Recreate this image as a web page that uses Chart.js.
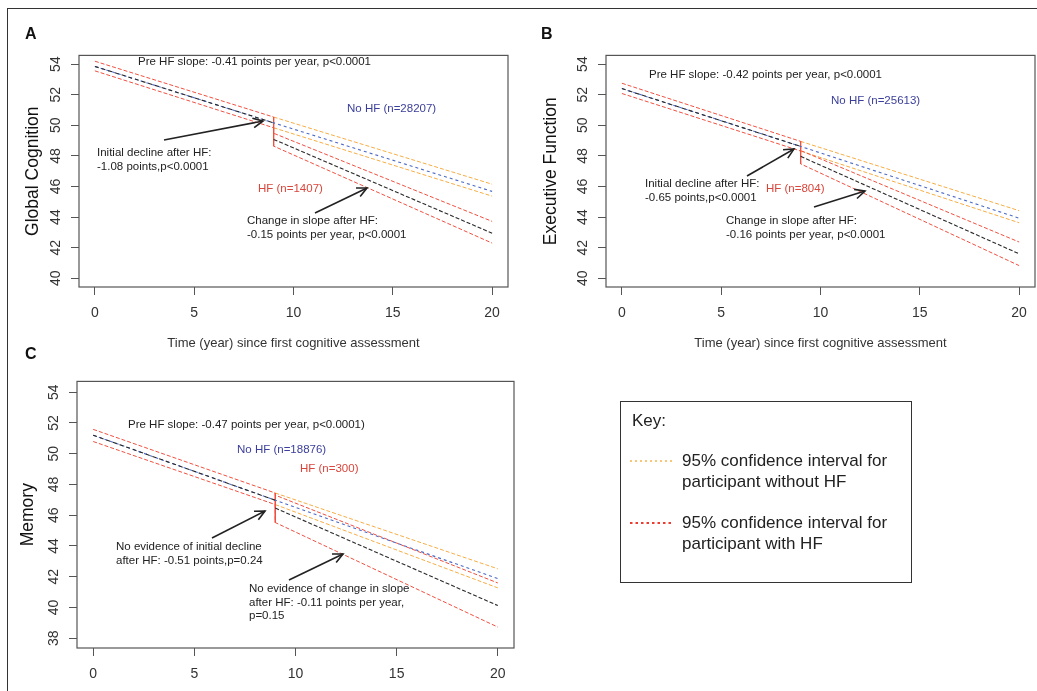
<!DOCTYPE html>
<html>
<head>
<meta charset="utf-8">
<script src="https://cdn.jsdelivr.net/npm/chart.js@4/dist/chart.umd.min.js"></script>
<style>
  body { margin: 0; background: #fff; font-family: "Liberation Sans", Arial, sans-serif; }
  #page { position: relative; width: 1037px; height: 691px; overflow: hidden; }
  #frame { position: absolute; left: 7px; top: 8px; width: 1060px; height: 720px; border: 1.5px solid #333; box-sizing: border-box; }
  canvas { position: absolute; }
  .note { position: absolute; font-size: 11.5px; line-height: 13.5px; color: #222; white-space: pre; }
  .letter { position: absolute; font-size: 16px; font-weight: bold; color: #111; line-height: 18px; }
  #key { position: absolute; left: 620px; top: 401px; width: 292px; height: 182px; border: 1.5px solid #333; box-sizing: border-box; }
  #key .txt { position: absolute; font-size: 17px; line-height: 21px; color: #222; white-space: pre; }
  #key svg { position: absolute; }
</style>
</head>
<body>
<div id="page">
  <div id="frame"></div>
  <canvas id="chartA" width="520" height="315" style="left:0;top:40px"></canvas>
  <canvas id="chartB" width="517" height="315" style="left:520px;top:40px"></canvas>
  <canvas id="chartC" width="520" height="325" style="left:0;top:366px"></canvas>
  <svg id="arrows" width="1037" height="691" style="position:absolute;left:0;top:0"></svg>
  <div class="letter" style="left:25px;top:25px">A</div>
  <div class="letter" style="left:541px;top:25px">B</div>
  <div class="letter" style="left:25px;top:345px">C</div>
  <div id="key">
    <div class="txt" style="left:11px;top:8px">Key:</div>
    <svg width="45" height="6" style="left:8px;top:56px"><line x1="1" y1="3" x2="44" y2="3" stroke="#f7b24a" stroke-width="1.6" stroke-dasharray="2,3"/></svg>
    <div class="txt" style="left:61px;top:48px">95% confidence interval for
participant without HF</div>
    <svg width="45" height="6" style="left:8px;top:118px"><line x1="1" y1="3" x2="44" y2="3" stroke="#ee3b2f" stroke-width="2.2" stroke-dasharray="2.5,3"/></svg>
    <div class="txt" style="left:61px;top:110px">95% confidence interval for
participant with HF</div>
  </div>
</div>
<script>
// years at which the fitted lines bend (HF occurs at year 9)
const xPre = [0, 9];
const xPost = [9, 20];
const xTicks = [0, 5, 10, 15, 20];
const yTicksAB = [40, 42, 44, 46, 48, 50, 52, 54];
const yTicksC = [38, 40, 42, 44, 46, 48, 50, 52, 54];

// A: global cognition
const aPreFit = [53.85, 50.16];
const aPreUpper = [54.19, 50.54];
const aPreLower = [53.56, 49.84];
const aNoHfFit = [50.16, 45.68];
const aNoHfUpper = [50.54, 46.15];
const aNoHfLower = [49.84, 45.37];
const aHfFit = [49.08, 42.95];
const aHfUpper = [49.48, 43.72];
const aHfLower = [48.64, 42.30];

// B: executive function
const bPreFit = [52.40, 48.62];
const bPreUpper = [52.75, 48.95];
const bPreLower = [52.08, 48.32];
const bNoHfFit = [48.62, 43.93];
const bNoHfUpper = [48.95, 44.42];
const bNoHfLower = [48.32, 43.63];
const bHfFit = [47.97, 41.60];
const bHfUpper = [48.35, 42.37];
const bHfLower = [47.48, 40.83];

// C: memory
const cPreFit = [51.20, 46.97];
const cPreUpper = [51.58, 47.44];
const cPreLower = [50.79, 46.69];
const cNoHfFit = [46.97, 41.87];
const cNoHfUpper = [47.44, 42.51];
const cNoHfLower = [46.69, 41.27];
const cHfFit = [46.46, 40.12];
const cHfUpper = [47.30, 41.59];
const cHfLower = [45.52, 38.72];

const family = '"Liberation Sans", Arial, sans-serif';
const black = '#2a2a2a', blue = '#4d6bc6', red = '#ef5040', orange = '#f6ad45';

function pts(xs, ys) {
  return xs.map((x, i) => ({ x: x, y: ys[i] }));
}

function line(data, color, dash, width) {
  return {
    data: data, borderColor: color, borderWidth: width || 1, borderDash: dash,
    pointRadius: 0, fill: false, tension: 0
  };
}

function buildDatasets(pre, preUp, preLo, noHf, noHfUp, noHfLo, hf, hfUp, hfLo) {
  return [
    line(pts(xPost, hf), black, [4, 2], 1.1),
    line(pts(xPre, pre), black, [4, 3], 1.1),
    line(pts(xPre, pre).concat(pts(xPost, noHf)), blue, [3, 3], 1.1),
    line(pts([9, 9], [preUp[1], hfLo[0]]), red, [], 1),
    line(pts(xPre, preUp).concat(pts(xPost, hfUp)), red, [4, 2], 1),
    line(pts(xPre, preLo).concat(pts(xPost, hfLo)), red, [4, 2], 1),
    line(pts(xPost, noHfUp), orange, [4, 2], 1),
    line(pts(xPost, noHfLo), orange, [4, 2], 1)
  ];
}

// box round the plot region, like R's box()
const boxPlugin = {
  id: 'box',
  afterDraw(chart) {
    const a = chart.chartArea, ctx = chart.ctx;
    ctx.save();
    ctx.strokeStyle = '#555';
    ctx.lineWidth = 1.2;
    ctx.strokeRect(a.left, a.top, a.right - a.left, a.bottom - a.top);
    ctx.restore();
  }
};

function makePanel(id, datasets, p) {
  return new Chart(id, {
    type: 'line',
    data: { datasets: datasets },
    plugins: [boxPlugin],
    options: {
      responsive: false,
      animation: false,
      layout: { padding: { top: p.padTop, right: p.padRight, left: 0, bottom: 0 } },
      plugins: { legend: { display: false }, tooltip: { enabled: false } },
      scales: {
        x: {
          type: 'linear', min: -0.8, max: 20.8,
          afterBuildTicks: s => { s.ticks = xTicks.map(v => ({ value: v })); },
          afterFit: s => { s.height = p.xHeight; },
          border: { display: false },
          grid: { drawOnChartArea: false, tickLength: 8, color: '#555' },
          ticks: { font: { family: family, size: 14 }, color: '#333', padding: 10, maxRotation: 0 },
          title: {
            display: p.xTitle !== '', text: p.xTitle, color: '#333',
            font: { family: family, size: 13 }, padding: { top: 0, bottom: 4 }
          }
        },
        y: {
          min: p.yMin, max: p.yMax,
          afterBuildTicks: s => { s.ticks = p.yTicks.map(v => ({ value: v })); },
          afterFit: s => { s.width = p.yWidth; },
          border: { display: false },
          grid: { drawOnChartArea: false, tickLength: 8, color: '#555' },
          ticks: {
            font: { family: family, size: 14 }, color: '#333',
            minRotation: 90, maxRotation: 90, crossAlign: 'center', padding: 7
          },
          title: {
            display: true, text: p.yTitle, color: '#111',
            font: { family: family, size: 17.5 }, padding: { top: p.yTitlePad, bottom: 0 }
          }
        }
      }
    }
  });
}

const xTitle = 'Time (year) since first cognitive assessment';

makePanel('chartA',
  buildDatasets(aPreFit, aPreUpper, aPreLower, aNoHfFit, aNoHfUpper, aNoHfLower, aHfFit, aHfUpper, aHfLower),
  { padTop: 8, padRight: 12, xHeight: 68, yWidth: 79, yMin: 39.43, yMax: 54.57, yTicks: yTicksAB,
    yTitle: 'Global Cognition', yTitlePad: 23, xTitle: xTitle });

makePanel('chartB',
  buildDatasets(bPreFit, bPreUpper, bPreLower, bNoHfFit, bNoHfUpper, bNoHfLower, bHfFit, bHfUpper, bHfLower),
  { padTop: 8, padRight: 2, xHeight: 68, yWidth: 86, yMin: 39.43, yMax: 54.57, yTicks: yTicksAB,
    yTitle: 'Executive Function', yTitlePad: 21, xTitle: xTitle });

makePanel('chartC',
  buildDatasets(cPreFit, cPreUpper, cPreLower, cNoHfFit, cNoHfUpper, cNoHfLower, cHfFit, cHfUpper, cHfLower),
  { padTop: 10, padRight: 6, xHeight: 43, yWidth: 77, yMin: 37.36, yMax: 54.70, yTicks: yTicksC,
    yTitle: 'Memory', yTitlePad: 18, xTitle: '' });

// annotation texts: [text, left, centre of first line, colour]
const notes = [
  ['Pre HF slope: -0.41 points per year, p<0.0001', 138, 62, '#222'],
  ['No HF (n=28207)', 347, 109, '#3b3f9b'],
  ['Initial decline after HF:\n-1.08 points,p<0.0001', 97, 153, '#222'],
  ['HF (n=1407)', 258, 189, '#d9463b'],
  ['Change in slope after HF:\n-0.15 points per year, p<0.0001', 247, 221, '#222'],
  ['Pre HF slope: -0.42 points per year, p<0.0001', 649, 75, '#222'],
  ['No HF (n=25613)', 831, 101, '#3b3f9b'],
  ['Initial decline after HF:\n-0.65 points,p<0.0001', 645, 184, '#222'],
  ['HF (n=804)', 766, 189, '#d9463b'],
  ['Change in slope after HF:\n-0.16 points per year, p<0.0001', 726, 221, '#222'],
  ['Pre HF slope: -0.47 points per year, p<0.0001)', 128, 425, '#222'],
  ['No HF (n=18876)', 237, 450, '#3b3f9b'],
  ['HF (n=300)', 300, 469, '#d9463b'],
  ['No evidence of initial decline\nafter HF: -0.51 points,p=0.24', 116, 547, '#222'],
  ['No evidence of change in slope\nafter HF: -0.11 points per year,\np=0.15', 249, 589, '#222']
];
const page = document.getElementById('page');
notes.forEach(n => {
  const d = document.createElement('div');
  d.className = 'note';
  d.textContent = n[0];
  d.style.left = n[1] + 'px';
  d.style.top = (n[2] - 6.75) + 'px';
  d.style.color = n[3];
  page.appendChild(d);
});

// arrows pointing at the HF step and the post-HF slope
const arrows = [
  [164, 140, 263, 121], [315, 213, 367, 188],
  [747, 176, 794, 149], [814, 207, 865, 191],
  [212, 538, 265, 511], [289, 580, 343, 554]
];
const svg = document.getElementById('arrows');
let s = '';
arrows.forEach(a => {
  const ang = Math.atan2(a[3] - a[1], a[2] - a[0]);
  const len = 11, spread = 0.45;
  const h1x = a[2] - len * Math.cos(ang - spread), h1y = a[3] - len * Math.sin(ang - spread);
  const h2x = a[2] - len * Math.cos(ang + spread), h2y = a[3] - len * Math.sin(ang + spread);
  s += '<line x1="' + a[0] + '" y1="' + a[1] + '" x2="' + a[2] + '" y2="' + a[3] + '" stroke="#222" stroke-width="1.6"/>';
  s += '<polyline points="' + h1x + ',' + h1y + ' ' + a[2] + ',' + a[3] + ' ' + h2x + ',' + h2y + '" fill="none" stroke="#222" stroke-width="1.6"/>';
});
svg.innerHTML = s;
</script>
</body>
</html>
